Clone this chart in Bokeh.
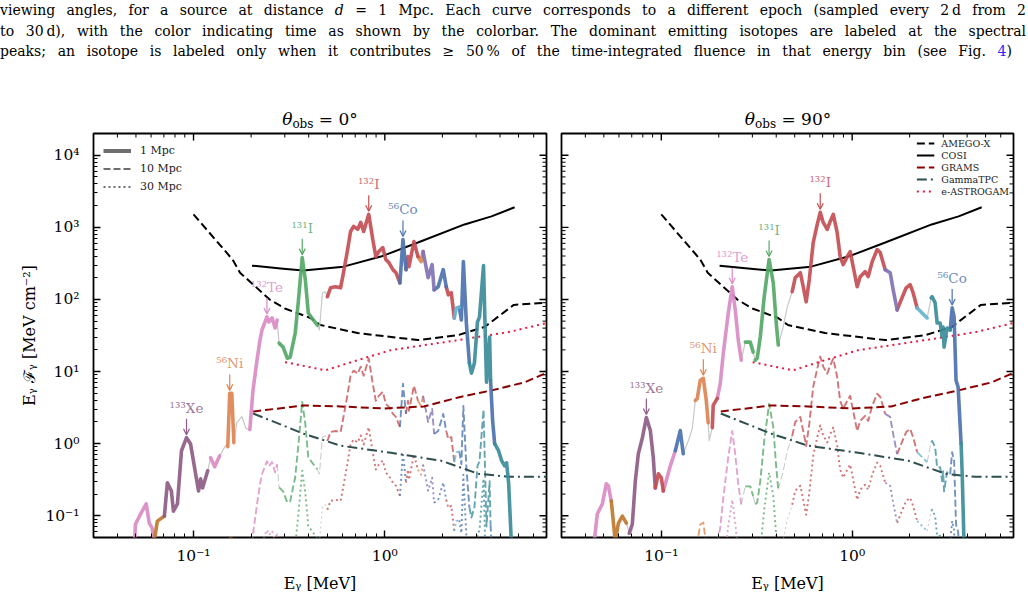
import numpy as np
from bokeh.plotting import figure
from bokeh.models import (Range1d, FixedTicker, CustomJSTickFormatter,
                          Label, Arrow, OpenHead, Legend, LegendItem, Div)
from bokeh.layouts import column, row
from bokeh.embed import file_html
from bokeh.resources import INLINE

FONT = "DejaVu Serif"

# ---------------- axes ----------------
X_RANGE = [0.03, 7.0]
Y_RANGE = [0.05, 2.0e4]
X_TICKS = [0.1, 1.0]
X_TICK_LABELS = ["10\u207b\u00b9", "10\u2070"]
Y_TICKS = [0.1, 1.0, 10.0, 100.0, 1000.0, 10000.0]
Y_TICK_LABELS = ["10\u207b\u00b9", "10\u2070", "10\u00b9", "10\u00b2", "10\u00b3", "10\u2074"]
X_MINOR = [m * d for d in (0.01, 0.1, 1.0) for m in range(2, 10)]
Y_MINOR = [m * d for d in (0.01, 0.1, 1.0, 10.0, 100.0, 1000.0, 10000.0) for m in range(2, 10)]

# ---------------- detector sensitivities ----------------
AMEGO_E = [0.1, 0.16, 0.175, 0.251, 0.30, 0.408, 0.461, 0.721, 1.49, 2.42, 3.32, 4.72, 7.04]
AMEGO_F = [1513, 357, 235, 99, 75, 55.4, 44.2, 34.2, 27.3, 32.1, 41.5, 84, 89.8]
COSI_E = [0.202, 0.294, 0.375, 0.608, 0.953, 1.49, 2.61, 3.61, 4.77]
COSI_F = [294, 267, 251, 285, 393, 615, 1097, 1419, 1896]
GRAMS_E = [0.205, 0.375, 0.587, 0.988, 1.60, 2.42, 3.61, 5.39, 7.12]
GRAMS_F = [2.79, 3.39, 3.28, 3.08, 3.28, 4.38, 5.48, 7.1, 9.78]
GTPC_E = [0.205, 0.375, 0.587, 1.076, 1.97, 3.09, 4.44, 7.12]
GTPC_F = [2.62, 1.38, 0.938, 0.748, 0.58, 0.382, 0.347, 0.347]
EAST_E = [0.301, 0.489, 0.721, 1.076, 2.42, 4.44, 7.04]
EAST_F = [13.5, 10.4, 14.4, 19.8, 27.3, 35.3, 47.2]

DET_NAMES = ["AMEGO-X", "COSI", "GRAMS", "GammaTPC", "e-ASTROGAM"]

# ---------------- spectra at 1 Mpc, theta = 0 deg ----------------
E_0 = [0.049, 0.0497, 0.0532, 0.0566, 0.0587, 0.0608, 0.0623, 0.0647, 0.0704, 0.073,
       0.0766, 0.0785, 0.0824, 0.0865, 0.0919, 0.0964, 0.1062, 0.1089, 0.1115, 0.1186,
       0.1228, 0.129, 0.137, 0.147, 0.151, 0.1546, 0.1585, 0.1625, 0.1683, 0.179,
       0.188, 0.197, 0.2045, 0.2147, 0.2225, 0.228, 0.242, 0.248, 0.2574, 0.267,
       0.2735, 0.28, 0.294, 0.309, 0.32, 0.34, 0.3525, 0.37, 0.384, 0.398,
       0.423, 0.444, 0.455, 0.472, 0.489, 0.501, 0.52, 0.552, 0.587, 0.608,
       0.639, 0.662, 0.687, 0.721, 0.748, 0.775, 0.824, 0.865, 0.897, 0.93,
       0.976, 1.012, 1.05, 1.102, 1.143, 1.199, 1.244, 1.29, 1.321, 1.337,
       1.42, 1.49, 1.547, 1.585, 1.684, 1.767, 1.81, 1.9, 2.02, 2.094,
       2.147, 2.225, 2.307, 2.364, 2.45, 2.512, 2.574, 2.668, 2.767, 2.836,
       2.94, 3.05, 3.125, 3.28, 3.4, 3.53, 3.57, 3.66, 3.75, 3.93,
       4.08, 4.23, 4.33, 4.44, 4.6]
F_0 = [0.035, 0.0766, 0.109, 0.146, 0.079, 0.0673, 0.0444, 0.0844, 0.099, 0.286,
       0.221, 0.116, 0.146, 0.798, 1.21, 1.0, 0.221, 0.325, 0.243, 0.42,
       0.638, 0.478, 0.68, 0.94, 0.908, 4.98, 4.98, 1.03, 1.96, 2.38,
       1.62, 1.57, 5.48, 14.4, 27.3, 37.7, 57.2, 48.7, 55.4, 40.2,
       51.9, 24.8, 21.8, 15.3, 15.8, 34.2, 89.7, 380, 188, 65,
       51.9, 44.2, 37.7, 124, 128, 109, 145, 150, 145, 235,
       492, 877, 1030, 935, 1170, 877, 1513, 678, 393, 461,
       524, 357, 324, 259, 235, 170, 678, 259, 393, 285,
       636, 393, 334, 461, 200, 304, 136, 150, 259, 150,
       116, 124, 55.4, 76.3, 78, 51.9, 334, 47.2, 13.1, 9.47,
       13.1, 48.7, 57.2, 294, 7.1, 30.1, 7.57, 2.09, 1.0, 0.8,
       0.579, 0.493, 0.543, 0.277, 0.035]
SEG_0 = [("pink", 6), ("brown", 2), ("mauve", 11), ("gray", 1), ("pink", 2), ("gray", 2),
         ("orange", 3), ("gray", 4), ("pink", 9), ("gray", 1), ("green", 10), ("gray", 4),
         ("red", 20), ("blue", 2), ("red", 4), ("orange", 2), ("purple", 3), ("blue", 3),
         ("red", 3), ("ltblue", 2), ("blue", 4), ("teal", 8), ("blue", 2), ("teal", 7)]
ANN_0 = [("133", "Xe", 0.0919, "mauve"), ("56", "Ni", 0.1546, "orange"),
         ("132", "Te", 0.242, "pink"), ("131", "I", 0.37, "green"),
         ("132", "I", 0.824, "red"), ("56", "Co", 1.244, "blue")]

# ---------------- spectra at 1 Mpc, theta = 90 deg ----------------
E_90 = [0.0441, 0.0462, 0.0491, 0.0515, 0.0528, 0.0547, 0.0574, 0.0596, 0.0625, 0.0656,
        0.068, 0.0705, 0.0731, 0.0758, 0.0796, 0.0835, 0.0876, 0.0908, 0.093, 0.0965,
        0.1, 0.1024, 0.105, 0.1115, 0.1184, 0.1257, 0.1303, 0.1385, 0.1453, 0.1507,
        0.1543, 0.16, 0.166, 0.172, 0.176, 0.1783, 0.185, 0.187, 0.1965, 0.2037,
        0.2087, 0.2113, 0.2243, 0.2353, 0.244, 0.253, 0.2624, 0.2753, 0.2924, 0.303,
        0.3105, 0.318, 0.33, 0.346, 0.367, 0.386, 0.4, 0.41, 0.435, 0.457,
        0.485, 0.503, 0.535, 0.554, 0.574, 0.596, 0.625, 0.656, 0.68, 0.705,
        0.74, 0.767, 0.796, 0.834, 0.865, 0.897, 0.942, 0.976, 1.012, 1.062,
        1.101, 1.17, 1.213, 1.273, 1.352, 1.402, 1.489, 1.581, 1.64, 1.72,
        1.805, 1.918, 2.012, 2.085, 2.19, 2.324, 2.47, 2.592, 2.624, 2.72,
        2.786, 2.89, 2.96, 2.995, 3.03, 3.14, 3.26, 3.34, 3.42, 3.5,
        3.59, 3.72, 3.77, 3.86]
F_90 = [0.035, 0.106, 0.146, 0.277, 0.26, 0.16, 0.044, 0.079, 0.099, 0.079,
        0.0574, 0.0766, 0.305, 0.726, 1.21, 2.3, 1.52, 0.638, 0.243, 0.382,
        0.336, 0.221, 0.277, 0.493, 0.798, 1.52, 0.726, 1.1, 1.62, 3.98,
        4.24, 7.57, 8.07, 3.98, 1.96, 1.1, 1.67, 3.39, 4.24, 6.87,
        13.1, 18.0, 65, 150, 71.6, 27.3, 14.4, 25.6, 25.6, 18.6,
        14.4, 15.3, 30.1, 109, 357, 170, 47.2, 23.3, 41.5, 78.9,
        128, 200, 235, 150, 92.6, 188, 615, 1097, 1614, 1170,
        935, 1208, 1513, 849, 393, 304, 393, 461, 285, 150,
        207, 243, 207, 334, 492, 447, 259, 235, 136, 71.6,
        98.7, 145, 160, 124, 76.3, 65, 55.4, 105, 109, 89.7,
        47.2, 47.2, 30.1, 41.5, 21.8, 40.2, 37.7, 76.3, 57.2, 7.57,
        6.04, 1.0, 0.382, 0.035]
SEG_90 = [("pink", 5), ("brown", 4), ("gray", 1), ("mauve", 8), ("red", 3), ("pink", 3),
          ("blue", 2), ("gray", 3), ("orange", 5), ("gray", 2), ("red", 2), ("pink", 8),
          ("gray", 1), ("green", 2), ("gray", 1), ("green", 7), ("gray", 3), ("red", 26),
          ("purple", 3), ("red", 5), ("ltblue", 2), ("gray", 1), ("teal", 9), ("blue", 5),
          ("teal", 3)]
ANN_90 = [("133", "Xe", 0.0835, "mauve"), ("56", "Ni", 0.166, "orange"),
          ("132", "Te", 0.2353, "pink"), ("131", "I", 0.367, "green"),
          ("132", "I", 0.68, "red"), ("56", "Co", 3.34, "blue")]

DISTANCES = [1, 10, 30]          # Mpc
DIST_LABELS = ["1 Mpc", "10 Mpc", "30 Mpc"]
TITLES = ["0\u00b0", "90\u00b0"]

COLORS = {"pink": "#DA8BC3", "brown": "#BD7A2E", "mauve": "#8E5C86", "orange": "#DD8452",
          "green": "#55A868", "red": "#C44E52", "blue": "#4C72B0", "purple": "#8172B3",
          "ltblue": "#64B5CD", "teal": "#3B8C99", "gray": "#C8C8C8"}

SUPER = {"0": "\u2070", "1": "\u00b9", "2": "\u00b2", "3": "\u00b3", "4": "\u2074",
         "5": "\u2075", "6": "\u2076", "7": "\u2077", "8": "\u2078", "9": "\u2079"}

TICK_JS = """
let best = 0, bd = Infinity;
for (let i = 0; i < tv.length; i++) {
  const d = Math.abs(Math.log10(tv[i]) - Math.log10(tick));
  if (d < bd) { bd = d; best = i; }
}
return tl[best];
"""

FRAME_H = 404
PX_PER_DEC = FRAME_H / (np.log10(Y_RANGE[1]) - np.log10(Y_RANGE[0]))


def expand(seg):
    out = []
    for k, n in seg:
        out += [k] * n
    return out


def runs(keys):
    n = len(keys)
    res = []
    a = 0
    for s in range(1, n - 1):
        if keys[s] != keys[a]:
            res.append((keys[a], a, s))
            a = s
    res.append((keys[a], a, n - 1))
    return res


def cfg_axis(ax, ticks, minor, labels, standoff):
    ax.ticker = FixedTicker(ticks=ticks, minor_ticks=minor)
    ax.formatter = CustomJSTickFormatter(args=dict(tv=ticks, tl=labels), code=TICK_JS)
    ax.major_tick_in = 7
    ax.major_tick_out = 0
    ax.minor_tick_in = 4
    ax.minor_tick_out = 0
    ax.major_tick_line_width = 1.4
    ax.minor_tick_line_width = 1.0
    ax.axis_line_color = None
    ax.major_label_text_font = FONT
    ax.major_label_text_color = "black"
    ax.major_label_text_font_size = "15.5px"
    ax.major_label_standoff = standoff
    ax.axis_label_text_font = FONT
    ax.axis_label_text_font_size = "16px"
    ax.axis_label_text_font_style = "normal"
    ax.axis_label_text_color = "black"


def mirror_ticks(p, frame_w, sides):
    px_x = frame_w / (np.log10(X_RANGE[1]) - np.log10(X_RANGE[0]))
    for ticks, L, w in ((X_TICKS, 7, 1.4), (X_MINOR, 4, 1.0)):
        if "top" in sides:
            xs = [t for t in ticks if X_RANGE[0] < t < X_RANGE[1]]
            p.segment(xs, [Y_RANGE[1]] * len(xs), xs,
                      [Y_RANGE[1] / 10 ** (L / PX_PER_DEC)] * len(xs),
                      line_color="black", line_width=w)
    for ticks, L, w in ((Y_TICKS, 7, 1.4), (Y_MINOR, 4, 1.0)):
        ys = [t for t in ticks if Y_RANGE[0] < t < Y_RANGE[1]]
        if "right" in sides:
            p.segment([X_RANGE[1]] * len(ys), ys,
                      [X_RANGE[1] / 10 ** (L / px_x)] * len(ys), ys,
                      line_color="black", line_width=w)
        if "left" in sides:
            p.segment([X_RANGE[0]] * len(ys), ys,
                      [X_RANGE[0] * 10 ** (L / px_x)] * len(ys), ys,
                      line_color="black", line_width=w)


def make_panel(E, F, SEG, ANN, width, frame_w, bl, br, show_y, legend_kind):
    p = figure(width=width, height=2 + FRAME_H + 63, x_axis_type="log", y_axis_type="log",
               x_range=Range1d(*X_RANGE), y_range=Range1d(*Y_RANGE),
               min_border_left=bl, min_border_right=br, min_border_top=2,
               min_border_bottom=63, toolbar_location=None, output_backend="svg",
               background_fill_color="white", border_fill_color="white")
    p.grid.visible = False
    p.outline_line_color = "black"
    p.outline_line_width = 1.8

    cfg_axis(p.below[0], X_TICKS, X_MINOR, X_TICK_LABELS, 9)
    cfg_axis(p.left[0], Y_TICKS, Y_MINOR, Y_TICK_LABELS, 14)
    p.below[0].axis_label = "E\u1d67 [MeV]"
    p.below[0].axis_label_standoff = 6
    if show_y:
        p.left[0].axis_label = "E\u1d67 \u2131\u1d67 [MeV cm\u207b\u00b2]"
        p.left[0].axis_label_standoff = 3
        mirror_ticks(p, frame_w, ("top", "right"))
    else:
        p.left[0].visible = False
        mirror_ticks(p, frame_w, ("top", "right", "left"))

    Earr = np.array(E, dtype=float)
    Farr = np.array(F, dtype=float)
    keys = expand(SEG)
    rr = runs(keys)

    styles = {1: dict(dash="solid", wc=3.6, wg=1.2, alpha=0.92),
              10: dict(dash="7 3", wc=1.9, wg=1.0, alpha=0.78),
              30: dict(dash="2 3", wc=1.9, wg=1.0, alpha=0.78)}

    def draw_spec(dist):
        st = styles[dist]
        scale = float(dist) ** 2
        for gray_pass in (True, False):
            groups = {}
            for k, a, b in rr:
                if (k == "gray") != gray_pass:
                    continue
                groups.setdefault(k, ([], []))
                groups[k][0].append(list(Earr[a:b + 1]))
                groups[k][1].append(list(Farr[a:b + 1] / scale))
            for k, (xs, ys) in groups.items():
                p.multi_line(xs, ys, line_color=COLORS[k],
                             line_width=st["wg"] if k == "gray" else st["wc"],
                             line_alpha=1.0 if k == "gray" else st["alpha"],
                             line_dash=st["dash"], line_join="round",
                             line_cap="round" if dist == 1 else "butt")

    draw_spec(DISTANCES[2])
    draw_spec(DISTANCES[1])

    det = {}
    det["AMEGO-X"] = p.line(AMEGO_E, AMEGO_F, line_color="black", line_width=2, line_dash="8 4")
    det["COSI"] = p.line(COSI_E, COSI_F, line_color="black", line_width=2)
    det["GRAMS"] = p.line(GRAMS_E, GRAMS_F, line_color="#8B0000", line_width=2, line_dash="8 4")
    det["GammaTPC"] = p.line(GTPC_E, GTPC_F, line_color="#2F4F4F", line_width=2,
                             line_dash="10 4 2 4")
    det["e-ASTROGAM"] = p.line(EAST_E, EAST_F, line_color="#E8173C", line_width=2,
                               line_dash="2 4")

    draw_spec(DISTANCES[0])

    # isotope annotations
    for mass, elem, e_pk, key in ANN:
        i = int(np.argmin(np.abs(np.log10(Earr) - np.log10(e_pk))))
        xe, yf = float(Earr[i]), float(Farr[i])
        col = COLORS[key]
        p.add_layout(Arrow(end=OpenHead(size=6, line_color=col, line_width=1.2),
                           x_start=xe, x_end=xe,
                           y_start=yf * 10 ** (19 / PX_PER_DEC),
                           y_end=yf * 10 ** (3 / PX_PER_DEC),
                           line_color=col, line_width=1.2))
        txt = "".join(SUPER[c] for c in mass) + elem
        p.add_layout(Label(x=xe, y=yf * 10 ** (22 / PX_PER_DEC), text=txt,
                           text_align="center", text_baseline="bottom",
                           text_font=FONT, text_font_size="13.5px",
                           text_color=col, text_alpha=0.85))

    # legends (off-screen points give the legend glyphs their look)
    if legend_kind == "dist":
        off_x = [X_RANGE[0] / 100, X_RANGE[0] / 50]
        off_y = [Y_RANGE[0] / 100, Y_RANGE[0] / 50]
        r1 = p.line(off_x, off_y, line_color="#6E6E6E", line_width=4)
        r2 = p.line(off_x, off_y, line_color="#6E6E6E", line_width=2, line_dash="7 3")
        r3 = p.line(off_x, off_y, line_color="#6E6E6E", line_width=2, line_dash="2 3")
        items = [LegendItem(label=l, renderers=[r]) for l, r in zip(DIST_LABELS, [r1, r2, r3])]
        leg = Legend(items=items, location="top_left", border_line_color=None,
                     background_fill_alpha=0, label_text_font=FONT,
                     label_text_color="#222222",
                     label_text_font_size="11px", glyph_width=28, glyph_height=15,
                     label_height=15, spacing=3, padding=4, margin=10, label_standoff=9)
    else:
        items = [LegendItem(label=n, renderers=[det[n]]) for n in DET_NAMES]
        leg = Legend(items=items, location="top_right", border_line_color=None,
                     background_fill_alpha=0, label_text_font=FONT,
                     label_text_color="#222222",
                     label_text_font_size="9.5px", glyph_width=18, glyph_height=12,
                     label_height=12, spacing=0, padding=3, margin=4, label_standoff=7)
    p.add_layout(leg)
    return p


p1 = make_panel(E_0, F_0, SEG_0, ANN_0, 553, 453, 93, 7, True, "dist")
p2 = make_panel(E_90, F_90, SEG_90, ANN_90, 475, 452, 8, 15, False, "det")

CAPTION = [
    "viewing angles, for a source at distance <i>d</i> = 1 Mpc. Each curve corresponds to a "
    "different epoch (sampled every 2&#8201;d from 2",
    "to 30&#8201;d), with the color indicating time as shown by the colorbar. The dominant "
    "emitting isotopes are labeled at the spectral",
    "peaks; an isotope is labeled only when it contributes &#8805; 50&#8201;% of the "
    "time-integrated fluence in that energy bin (see Fig. <span style=\"color:#2a2aff\">4</span>)",
]
line_w = [1026, 1026, 1012]
parts = []
for t, w in zip(CAPTION, line_w):
    parts.append('<div style="text-align:justify;text-align-last:justify;width:%dpx;'
                 'margin:0;padding:0;height:20.5px;line-height:20.5px;">%s</div>' % (w, t))
title_centers = [320, 788]
for t, c in zip(TITLES, title_centers):
    parts.append('<div style="position:absolute;left:%dpx;top:109px;width:200px;'
                 'text-align:center;font-size:17px;line-height:20px;white-space:nowrap;">'
                 '<i>\u03b8</i><sub style="font-size:12px;vertical-align:-3px;">obs</sub>'
                 ' = %s</div>' % (c - 100, t))
html = ('<div style="position:relative;width:1028px;height:131px;">%s</div>'
        % "".join(parts))
cap = Div(text=html, width=1028, height=131, margin=0,
          styles={"font-family": FONT, "font-size": "14px", "color": "black",
                  "padding": "0px", "margin": "0px"})

layout = column(cap, row(p1, p2, spacing=0), spacing=0)
open("out.html", "w").write(file_html(layout, INLINE))
